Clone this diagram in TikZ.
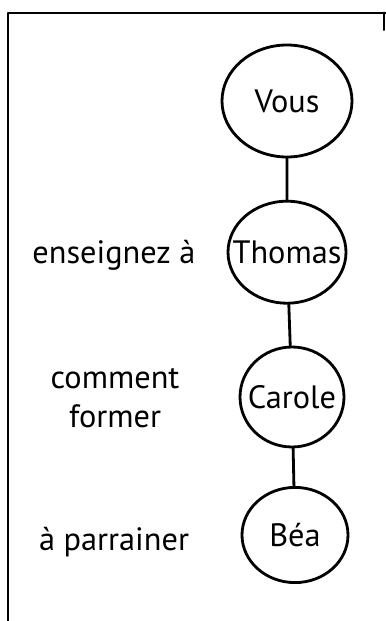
\documentclass[tikz,border=0pt]{standalone}
\usepackage{fontspec}
\setmainfont{PT Sans}
\usetikzlibrary{shapes.geometric}
\begin{document}
\begin{tikzpicture}[line join=round,line cap=round,font=\fontsize{23}{28}\selectfont,
		bulle/.style={draw,ellipse,line width=2pt,inner sep=0pt},
		lien/.style={line width=2pt}]
			\useasboundingbox (0,0) rectangle (9.65,15.525);
			% cadre
			\coordinate (A) at (0.2,0);
			\coordinate (B) at (0.2,15.2);
			\coordinate (C) at (9.65,15.2);
			\coordinate (D) at (9.6,15.2);
			\coordinate (E) at (9.6,14.78);
			\draw[lien] (A)--(B)--(C) (D)--(E);
			
			% les personnes
			\node[bulle,minimum width=3.25cm,minimum height=2.8cm] (vous) at (7.175,13) {\makebox[0pt]{Vous}};
			\node[bulle,minimum width=2.95cm,minimum height=2.55cm] (thomas) at (7.175,9.22) {\makebox[0pt]{Thomas}};
			\node[bulle,minimum width=2.6cm,minimum height=2.5cm] (carole) at (7.3,5.6) {\makebox[0pt]{Carole}};
			\node[bulle,minimum width=2.65cm,minimum height=2.38cm] (bea) at (7.375,2.15) {\makebox[0pt]{Béa}};
			
			\draw[lien] (vous)--(thomas) (thomas)--(carole) (carole)--(bea);
			
			% les textes
			\node (enseignez) at (2.85,9.15) {enseignez à};
			\node[align=center] (former) at (2.875,5.575) {comment\\former};
			\node (parrainer) at (2.85,1.975) {à parrainer};
		\end{tikzpicture}
\end{document}
